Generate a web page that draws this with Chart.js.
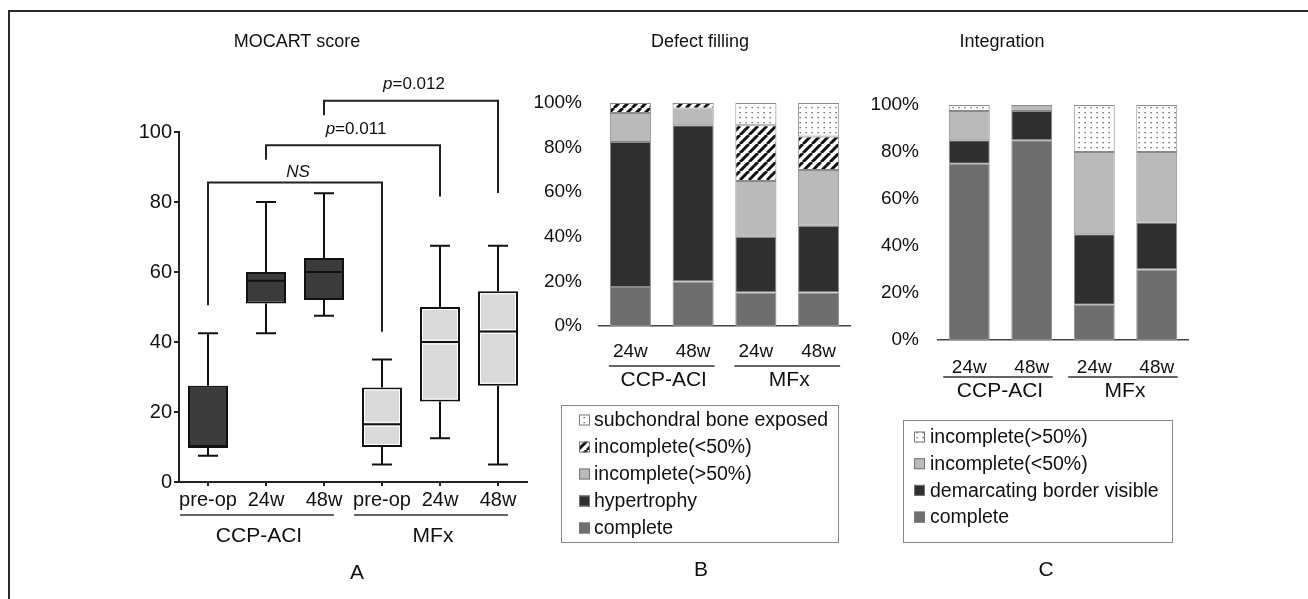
<!DOCTYPE html>
<html>
<head>
<meta charset="utf-8">
<script src="https://cdn.jsdelivr.net/npm/chart.js@4.4.0/dist/chart.umd.min.js"></script>
<style>
  html, body { margin: 0; padding: 0; background: #fff; }
  #wrap { position: relative; width: 1308px; height: 599px; overflow: hidden; }
  #frame { position: absolute; left: 8px; top: 10px; width: 1400px; height: 700px;
           border-left: 2px solid #2a2a2a; border-top: 2px solid #2a2a2a; }
  .panel { position: absolute; top: 0; height: 599px; }
</style>
</head>
<body>
<div id="wrap">
  <div id="frame"></div>
  <div class="panel" style="left:0;width:545px"><canvas id="chartA" width="545" height="599"></canvas></div>
  <div class="panel" style="left:515px;width:345px"><canvas id="chartB" width="345" height="599"></canvas></div>
  <div class="panel" style="left:860px;width:448px"><canvas id="chartC" width="448" height="599"></canvas></div>
</div>
<script>
const FONT = '"Liberation Sans", Arial, sans-serif';
Chart.defaults.font.family = FONT;
Chart.defaults.color = '#111';

// ---- A: MOCART score (box plots) ----
const boxLabels = ['pre-op', '24w', '48w', 'pre-op', '24w', '48w'];
const boxGroups = ['CCP-ACI', 'CCP-ACI', 'CCP-ACI', 'MFx', 'MFx', 'MFx'];
const boxMin    = [7.5, 42.5, 47.5, 5, 12.5, 5];
const boxQ1     = [10, 51, 52, 10, 23, 27.5];
const boxMedian = [10, 57.5, 60, 16.5, 40, 43];
const boxQ3     = [27.5, 60, 64, 27, 50, 54.5];
const boxMax    = [42.5, 80, 82.5, 35, 67.5, 67.5];
const scoreTicks = [0, 20, 40, 60, 80, 100];

// significance brackets, indexes into boxLabels
const comparisons = [
  { from: 0, to: 3, text: 'NS',      level: 85.6,  dropFrom: 50.5,  dropTo: 42.9, textAt: 88.6 },
  { from: 1, to: 4, text: 'p=0.011', level: 96.2,  dropFrom: 92.1,  dropTo: 81.6, textAt: 100.8 },
  { from: 2, to: 5, text: 'p=0.012', level: 108.9, dropFrom: 104.8, dropTo: 82.6, textAt: 113.6 }
];

// ---- B: Defect filling / C: Integration (stacked %) ----
const weekLabels = ['24w', '48w', '24w', '48w'];
const weekGroups = ['CCP-ACI', 'CCP-ACI', 'MFx', 'MFx'];
const percentTicks = [0, 20, 40, 60, 80, 100];

const fillComplete    = [17.5, 20, 15, 15];
const fillHypertrophy = [65, 70, 25, 30];
const fillIncOver50   = [13, 7.5, 25, 25];
const fillIncUnder50  = [4.5, 2.5, 25, 15];
const fillBoneExposed = [0, 0, 10, 15];

const intComplete    = [75, 85, 15, 30];
const intBorder      = [10, 12.5, 30, 20];
const intIncUnder50  = [12.5, 2.5, 35, 30];
const intIncOver50   = [2.5, 0, 20, 20];

const DARK_BOX = '#3b3b3b', LIGHT_BOX = '#dadada';
const GREY_MID = '#6e6e6e', GREY_DARK = '#2f2f2f', GREY_LIGHT = '#bababa';

function stripePattern() {
  const c = document.createElement('canvas');
  c.width = c.height = 9;
  const g = c.getContext('2d');
  g.fillStyle = '#fff'; g.fillRect(0, 0, 9, 9);
  g.strokeStyle = '#111'; g.lineWidth = 3;
  g.beginPath();
  for (const o of [-9, 0, 9]) { g.moveTo(o, 9); g.lineTo(o + 9, 0); }
  g.stroke();
  return g.createPattern(c, 'repeat');
}
function dotPattern() {
  const c = document.createElement('canvas');
  c.width = 6; c.height = 5;
  const g = c.getContext('2d');
  g.fillStyle = '#fff'; g.fillRect(0, 0, 6, 5);
  g.fillStyle = '#555'; g.fillRect(2.5, 2, 1.3, 1.3);
  return g.createPattern(c, 'repeat');
}
const STRIPES = stripePattern();
const DOTS = dotPattern();

function line(ctx, x0, y0, x1, y1) {
  ctx.beginPath(); ctx.moveTo(x0, y0); ctx.lineTo(x1, y1); ctx.stroke();
}

// whiskers + medians on top of the floating bars
const boxWhiskers = {
  id: 'boxWhiskers',
  afterDatasetsDraw(chart) {
    const { ctx, scales: { y } } = chart;
    const meta = chart.getDatasetMeta(0);
    ctx.save();
    meta.data.forEach((bar, i) => {
      const cx = bar.x, half = bar.width / 2, cap = bar.width / 4;
      const yMin = y.getPixelForValue(boxMin[i]);
      const yQ1 = y.getPixelForValue(boxQ1[i]);
      const yMed = y.getPixelForValue(boxMedian[i]);
      const yQ3 = y.getPixelForValue(boxQ3[i]);
      const yMax = y.getPixelForValue(boxMax[i]);
      if (i >= 3) {
        ctx.strokeStyle = '#fff'; ctx.lineWidth = 1;
        ctx.strokeRect(cx - half + 2.5, yQ3 + 2.5, bar.width - 5, yQ1 - yQ3 - 5);
        line(ctx, cx - half + 2, yMed - 2, cx + half - 2, yMed - 2);
        line(ctx, cx - half + 2, yMed + 2, cx + half - 2, yMed + 2);
      }
      ctx.strokeStyle = '#111'; ctx.lineWidth = 2;
      line(ctx, cx, yQ3, cx, yMax);
      line(ctx, cx - cap, yMax, cx + cap, yMax);
      line(ctx, cx, yQ1, cx, yMin);
      line(ctx, cx - cap, yMin, cx + cap, yMin);
      line(ctx, cx - half, yMed, cx + half, yMed);
    });
    ctx.restore();
  }
};

const brackets = {
  id: 'brackets',
  afterDraw(chart) {
    const { ctx, scales: { x, y } } = chart;
    ctx.save();
    ctx.strokeStyle = '#222'; ctx.lineWidth = 2;
    ctx.fillStyle = '#111';
    comparisons.forEach(c => {
      const xa = x.getPixelForValue(c.from), xb = x.getPixelForValue(c.to);
      const yl = y.getPixelForValue(c.level);
      ctx.beginPath();
      ctx.moveTo(xa, y.getPixelForValue(c.dropFrom));
      ctx.lineTo(xa, yl);
      ctx.lineTo(xb, yl);
      ctx.lineTo(xb, y.getPixelForValue(c.dropTo));
      ctx.stroke();
      const ty = y.getPixelForValue(c.textAt);
      const cx = (xa + xb) / 2 + 3;
      ctx.textBaseline = 'middle';
      if (c.text.startsWith('p=')) {
        const rest = c.text.slice(1);
        ctx.font = 'italic 17px ' + FONT;
        const wp = ctx.measureText('p').width;
        ctx.font = '17px ' + FONT;
        const wr = ctx.measureText(rest).width;
        const x0 = cx - (wp + wr) / 2;
        ctx.textAlign = 'left';
        ctx.font = 'italic 17px ' + FONT;
        ctx.fillText('p', x0, ty);
        ctx.font = '17px ' + FONT;
        ctx.fillText(rest, x0 + wp, ty);
      } else {
        ctx.font = 'italic 17px ' + FONT;
        ctx.textAlign = 'center';
        ctx.fillText(c.text, cx, ty);
      }
    });
    ctx.restore();
  }
};

// second row of x labels (group names with underline)
const groupAxis = {
  id: 'groupAxis',
  afterDraw(chart, args, opts) {
    const { ctx, scales: { x } } = chart;
    const groups = opts.groups;
    ctx.save();
    ctx.strokeStyle = '#333'; ctx.lineWidth = 1.5;
    ctx.fillStyle = '#111';
    ctx.font = opts.size + 'px ' + FONT;
    ctx.textAlign = 'center'; ctx.textBaseline = 'middle';
    let start = 0;
    for (let i = 1; i <= groups.length; i++) {
      if (i === groups.length || groups[i] !== groups[start]) {
        const x0 = x.getPixelForValue(start) + opts.startOffset;
        const x1 = x.getPixelForValue(i - 1) + opts.endOffset;
        line(ctx, x0, opts.lineY, x1, opts.lineY);
        ctx.fillText(groups[start], (x0 + x1) / 2 + 2, opts.labelY);
        start = i;
      }
    }
    ctx.restore();
  }
};

// panel title and panel letter
const panelText = {
  id: 'panelText',
  afterDraw(chart, args, opts) {
    const { ctx } = chart;
    ctx.save();
    ctx.fillStyle = '#111';
    ctx.textAlign = 'center'; ctx.textBaseline = 'middle';
    ctx.font = '18px ' + FONT;
    ctx.fillText(opts.title, opts.titleX, opts.titleY);
    ctx.font = '21px ' + FONT;
    ctx.fillText(opts.letter, opts.letterX, opts.letterY);
    ctx.restore();
  }
};

// boxed legend under the stacked bars, top entry first
const boxedLegend = {
  id: 'boxedLegend',
  afterDraw(chart, args, opts) {
    const { ctx } = chart;
    const sets = chart.data.datasets.slice().reverse();
    ctx.save();
    ctx.strokeStyle = '#888'; ctx.lineWidth = 1;
    ctx.strokeRect(opts.x + 0.5, opts.y + 0.5, opts.w, opts.h);
    ctx.font = '19.5px ' + FONT;
    ctx.textAlign = 'left'; ctx.textBaseline = 'middle';
    sets.forEach((ds, i) => {
      const cy = opts.rowY + i * opts.rowStep;
      const s = 11;
      ctx.fillStyle = ds.backgroundColor;
      ctx.fillRect(opts.markerX, cy - s / 2, s, s);
      ctx.strokeStyle = '#777';
      ctx.strokeRect(opts.markerX + 0.5, cy - s / 2 + 0.5, s - 1, s - 1);
      ctx.fillStyle = '#111';
      ctx.fillText(ds.label, opts.textX, cy + 1);
    });
    ctx.restore();
  }
};

function fixedTicks(list) {
  return scale => { scale.ticks = list.map(v => ({ value: v })); };
}

new Chart(document.getElementById('chartA'), {
  type: 'bar',
  data: {
    labels: boxLabels,
    datasets: [{
      label: 'MOCART score',
      data: boxQ1.map((q, i) => [q, boxQ3[i]]),
      backgroundColor: boxLabels.map((_, i) => boxGroups[i] === 'MFx' ? LIGHT_BOX : DARK_BOX),
      borderColor: '#111',
      borderWidth: 2,
      borderSkipped: false,
      barPercentage: 0.69,
      categoryPercentage: 1
    }]
  },
  options: {
    responsive: false,
    animation: false,
    layout: { padding: { left: 0, right: 18, top: 132, bottom: 0 } },
    plugins: {
      legend: { display: false },
      tooltip: { enabled: false },
      groupAxis: { groups: boxGroups, startOffset: -28, endOffset: 10, lineY: 515, labelY: 536, size: 21 },
      panelText: { title: 'MOCART score', titleX: 297, titleY: 42, letter: 'A', letterX: 357, letterY: 573 }
    },
    scales: {
      x: {
        grid: { display: true, drawOnChartArea: false, drawTicks: true, tickLength: 4, offset: false, color: '#222', lineWidth: 2 },
        border: { color: '#222', width: 2 },
        ticks: { font: { size: 20 }, padding: 2, maxRotation: 0, autoSkip: false },
        afterFit(s) { s.height = 117; }
      },
      y: {
        min: 0, max: 100,
        afterBuildTicks: fixedTicks(scoreTicks),
        grid: { display: true, drawOnChartArea: false, drawTicks: true, tickLength: 5, color: '#222', lineWidth: 2 },
        border: { color: '#222', width: 2 },
        ticks: { font: { size: 20 }, padding: 2 },
        afterFit(s) { s.width = 179; }
      }
    }
  },
  plugins: [boxWhiskers, brackets, groupAxis, panelText]
});

function stackedSet(label, data, color) {
  return {
    label, data,
    backgroundColor: color,
    borderColor: '#8a8a8a',
    borderWidth: ctx => (ctx.raw ? 1 : 0),
    borderSkipped: false,
    barPercentage: 0.655,
    categoryPercentage: 1
  };
}

function stackedOptions(cfg) {
  return {
    responsive: false,
    animation: false,
    layout: { padding: { left: 0, right: cfg.right, top: cfg.top, bottom: 0 } },
    plugins: {
      legend: { display: false },
      tooltip: { enabled: false },
      groupAxis: cfg.group,
      panelText: cfg.text,
      boxedLegend: cfg.legend
    },
    scales: {
      x: {
        stacked: true,
        grid: { display: false, drawTicks: false },
        border: { color: '#444', width: 1.5 },
        ticks: { font: { size: 19 }, padding: cfg.xPad, maxRotation: 0, autoSkip: false },
        afterFit(s) { s.height = cfg.xHeight; }
      },
      y: {
        stacked: true,
        min: 0, max: 100,
        afterBuildTicks: fixedTicks(percentTicks),
        grid: { display: false, drawTicks: false },
        border: { display: false },
        ticks: { font: { size: 19 }, padding: cfg.yPad, callback: v => v + '%' },
        afterFit(s) { s.width = cfg.yWidth; }
      }
    }
  };
}

new Chart(document.getElementById('chartB'), {
  type: 'bar',
  data: {
    labels: weekLabels,
    datasets: [
      stackedSet('complete', fillComplete, GREY_MID),
      stackedSet('hypertrophy', fillHypertrophy, GREY_DARK),
      stackedSet('incomplete(>50%)', fillIncOver50, GREY_LIGHT),
      stackedSet('incomplete(<50%)', fillIncUnder50, STRIPES),
      stackedSet('subchondral bone exposed', fillBoneExposed, DOTS)
    ]
  },
  options: stackedOptions({
    right: 10, top: 103, xHeight: 273, yWidth: 84, xPad: 14, yPad: 17,
    group: { groups: weekGroups, startOffset: -21.5, endOffset: 21.5, lineY: 366, labelY: 380, size: 21 },
    text: { title: 'Defect filling', titleX: 185, titleY: 42, letter: 'B', letterX: 186, letterY: 570 },
    legend: { x: 46, y: 405, w: 277, h: 137, markerX: 64, textX: 79, rowY: 420, rowStep: 27 }
  }),
  plugins: [groupAxis, panelText, boxedLegend]
});

new Chart(document.getElementById('chartC'), {
  type: 'bar',
  data: {
    labels: weekLabels,
    datasets: [
      stackedSet('complete', intComplete, GREY_MID),
      stackedSet('demarcating border visible', intBorder, GREY_DARK),
      stackedSet('incomplete(<50%)', intIncUnder50, GREY_LIGHT),
      stackedSet('incomplete(>50%)', intIncOver50, DOTS)
    ]
  },
  options: stackedOptions({
    right: 120, top: 105, xHeight: 259, yWidth: 78, xPad: 16, yPad: 19,
    group: { groups: weekGroups, startOffset: -26, endOffset: 21, lineY: 377, labelY: 391, size: 21 },
    text: { title: 'Integration', titleX: 142, titleY: 42, letter: 'C', letterX: 186, letterY: 570 },
    legend: { x: 43, y: 420, w: 269, h: 122, markerX: 54, textX: 70, rowY: 437, rowStep: 26.7 }
  }),
  plugins: [groupAxis, panelText, boxedLegend]
});
</script>
</body>
</html>
